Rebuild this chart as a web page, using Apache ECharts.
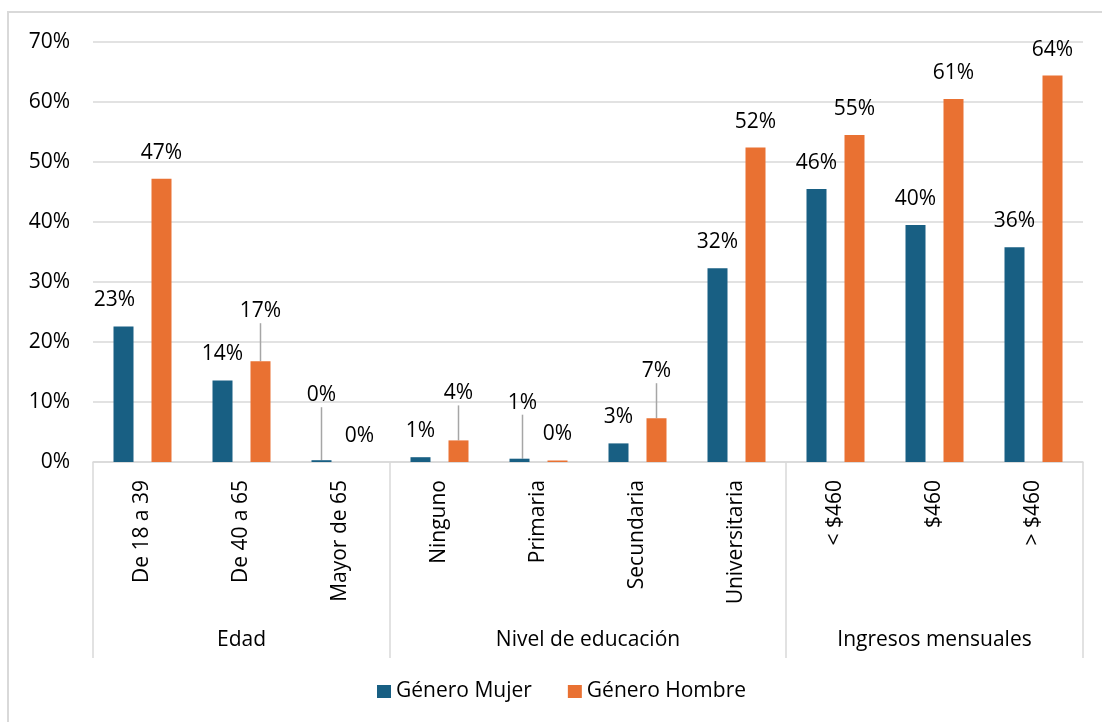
<!DOCTYPE html>
<html>
<head>
<meta charset="utf-8">
<script src="https://cdn.jsdelivr.net/npm/echarts@6/dist/echarts.min.js"></script>
<style>
html,body{margin:0;padding:0;background:#fff;}
#chart{width:1102px;height:722px;}
</style>
</head>
<body>
<div id="chart"></div>
<script>
// ---- data ----
const categories = ['De 18 a 39', 'De 40 a 65', 'Mayor de 65', 'Ninguno', 'Primaria', 'Secundaria', 'Universitaria', '< $460', '$460', '> $460'];
const groupNames = ['Edad', 'Nivel de educación', 'Ingresos mensuales'];
const groupSizes = [3, 4, 3];
const seriesNames = ['Género Mujer', 'Género Hombre'];
const mujer  = [22.6, 13.6, 0.3, 0.8, 0.55, 3.1, 32.3, 45.5, 39.5, 35.8];
const hombre = [47.2, 16.8, 0.0, 3.6, 0.25, 7.3, 52.4, 54.5, 60.5, 64.4];
const yTicks = [0, 10, 20, 30, 40, 50, 60, 70];

// manual label nudges (like moved Excel data labels), [dx, dy]
const mujerLabelShift  = [[-9, 0], null, [0, -39], null, [3, -30], null, null, null, null, null];
const hombreLabelShift = [null, [0, -24], null, [0, -21], null, [0, -21], null, null, null, null];

const colors = ['#185F83', '#E97132'];
const FONT = '"Open Sans", "Noto Sans", sans-serif';

// group boundaries and centres on a 0..N scale
const boundaries = [0];
groupSizes.forEach(s => boundaries.push(boundaries[boundaries.length - 1] + s));
const centres = groupNames.map((_, i) => (boundaries[i] + boundaries[i + 1]) / 2);

function buildData(values, shifts) {
  return values.map((v, i) => {
    const item = { value: v };
    if (shifts[i] && shifts[i][1] !== 0) {
      item.labelLine = { show: true, lineStyle: { color: '#A6A6A6', width: 1.5 } };
    }
    return item;
  });
}
const shiftsBySeries = [mujerLabelShift, hombreLabelShift];

const chart = echarts.init(document.getElementById('chart'), null, { renderer: 'canvas' });

const labelCommon = {
  show: true,
  position: 'top',
  distance: 14,
  fontSize: 21,
  lineHeight: 24,
  fontFamily: FONT,
  color: '#000',
  formatter: p => Math.round(p.value) + '%'
};

const option = {
  animation: false,
  backgroundColor: '#fff',
  color: colors,
  textStyle: { fontFamily: FONT },
  graphic: [{
    type: 'rect',
    shape: { x: 8, y: 12, width: 1200, height: 800 },
    style: { fill: 'none', stroke: '#D9D9D9', lineWidth: 2 },
    silent: true,
    z: -10
  }],
  grid: { left: 93, right: 19, top: 42, bottom: 260 },
  legend: {
    data: seriesNames,
    top: 681,
    left: 377,
    padding: 0,
    itemWidth: 14,
    itemHeight: 13,
    itemGap: 36,
    icon: 'rect',
    textStyle: { fontSize: 21, fontFamily: FONT, color: '#000' }
  },
  xAxis: [{
    type: 'category',
    data: categories,
    axisLine: { lineStyle: { color: '#D9D9D9', width: 1.5 } },
    axisTick: { show: false },
    axisLabel: {
      rotate: 90,
      margin: 18,
      fontSize: 21,
      fontFamily: FONT,
      color: '#000',
      interval: 0
    }
  }, {
    type: 'value',
    position: 'bottom',
    min: boundaries[0],
    max: boundaries[boundaries.length - 1],
    axisLine: { show: false },
    splitLine: { show: false },
    axisTick: {
      show: true,
      customValues: boundaries,
      length: 196,
      lineStyle: { color: '#D9D9D9', width: 1.5 }
    },
    axisLabel: {
      customValues: centres,
      margin: 168,
      fontSize: 21,
      fontFamily: FONT,
      color: '#000',
      formatter: v => {
        const i = centres.findIndex(c => Math.abs(c - v) < 1e-6);
        return i >= 0 ? groupNames[i] : '';
      }
    }
  }],
  yAxis: {
    type: 'value',
    min: yTicks[0],
    max: yTicks[yTicks.length - 1],
    interval: yTicks[1] - yTicks[0],
    axisLine: { show: false },
    axisTick: { show: false },
    splitLine: { lineStyle: { color: '#D9D9D9', width: 1.5 } },
    axisLabel: {
      margin: 23,
      fontSize: 21,
      fontFamily: FONT,
      color: '#000',
      formatter: '{value}%'
    }
  },
  series: [mujer, hombre].map((vals, si) => ({
    name: seriesNames[si],
    type: 'bar',
    xAxisIndex: 0,
    barWidth: 20,
    barGap: '90%',
    data: buildData(vals, shiftsBySeries[si]),
    itemStyle: { color: colors[si] },
    label: labelCommon,
    labelLayout: p => {
      const s = shiftsBySeries[p.seriesIndex][p.dataIndex];
      return s ? { dx: s[0], dy: s[1] } : {};
    }
  }))
};

chart.setOption(option);
</script>
</body>
</html>
